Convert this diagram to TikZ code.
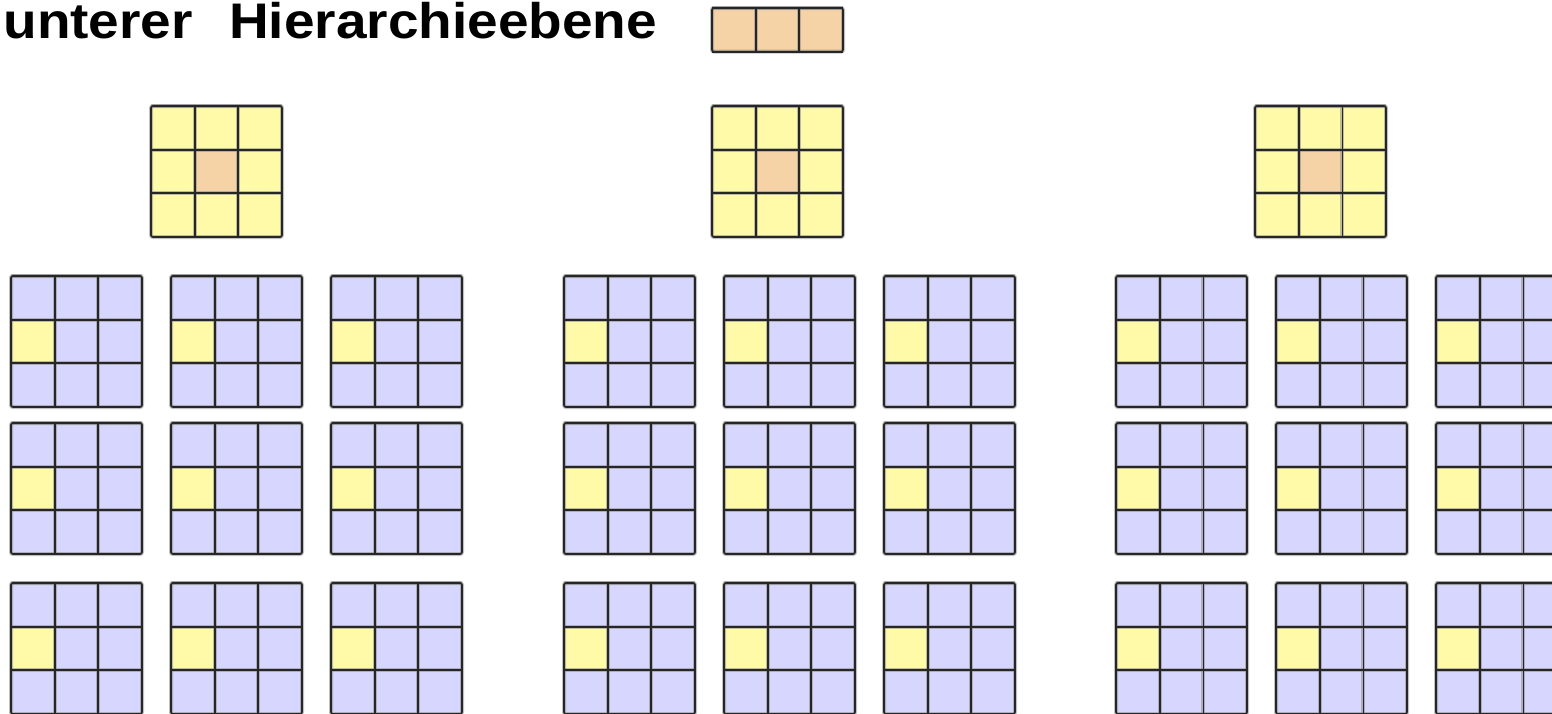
\documentclass[tikz,border=0pt]{standalone}
\usepackage{fontspec}
\setmainfont{Liberation Sans}

\definecolor{cellblue}{RGB}{214,214,255}
\definecolor{cellyellow}{RGB}{255,250,168}
\definecolor{cellorange}{RGB}{246,211,166}

\tikzset{
    halo/.style={draw=black!45, line width=2pt, opacity=0.55},
    gridline/.style={draw=black!85, line width=0.85pt},
    % #1 rows, #2 base colour, #3 mark colour, #4 mark column, #5 mark row
    pics/cellgrid/.style n args={5}{code={
        \fill[#2, rounded corners=1pt] (0,0) rectangle (131,#1*43.667);
        \fill[#3] (#4*43.667,#5*43.667) rectangle ++(43.667,43.667);
        \draw[halo, rounded corners=1pt] (0,0) rectangle (131,#1*43.667);
        \foreach \i in {1,2} \draw[halo] (\i*43.667,0) -- (\i*43.667,#1*43.667);
        \foreach \j in {1,...,#1} \draw[halo] (0,\j*43.667-43.667) -- (131,\j*43.667-43.667);
        \draw[gridline, rounded corners=1pt] (0,0) rectangle (131,#1*43.667);
        \foreach \i in {1,2} \draw[gridline] (\i*43.667,0) -- (\i*43.667,#1*43.667);
        \foreach \j in {2,...,#1} \draw[gridline] (0,\j*43.667-43.667) -- (131,\j*43.667-43.667);
    }}
}

\begin{document}
\begin{tikzpicture}[x=0.5pt, y=-0.5pt]
\useasboundingbox (0,0) rectangle (1552,713);
\clip (0,0) rectangle (1552,713);

\node[anchor=base west, inner sep=0pt, xscale=1.1, font=\bfseries\fontsize{25pt}{30pt}\selectfont]
    (title) at (3,38) {unterer\hspace{16.5pt}Hierarchieebene};

% top level
\pic at (712,8) {cellgrid={1}{cellorange}{cellorange}{0}{0}};

% middle level
\foreach \gx in {151,712,1255}
    \pic at (\gx,106) {cellgrid={3}{cellyellow}{cellorange}{1}{1}};

% lower level
\foreach \gx in {11,564,1116}
    \foreach \dx in {0,160,320}
        \foreach \gy in {276,423,583}
            \pic at (\gx+\dx,\gy) {cellgrid={3}{cellblue}{cellyellow}{0}{1}};

\end{tikzpicture}
\end{document}
